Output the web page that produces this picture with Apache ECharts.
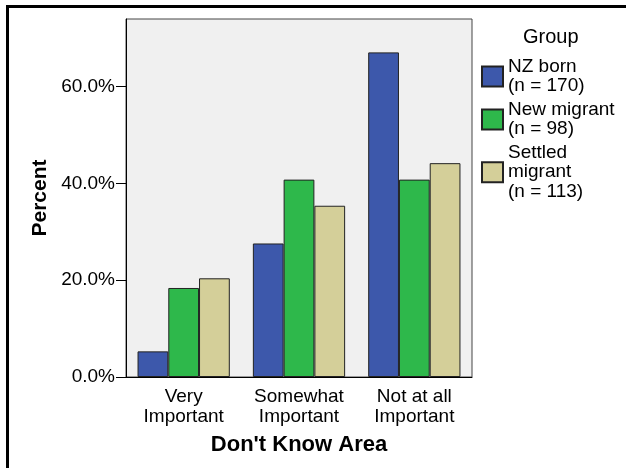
<!DOCTYPE html>
<html>
<head>
<meta charset="utf-8">
<script src="https://cdn.jsdelivr.net/npm/echarts@6/dist/echarts.min.js"></script>
<style>
  html, body { margin: 0; padding: 0; background: #fff; }
  #main { width: 626px; height: 468px; }
</style>
</head>
<body>
<div id="main"></div>
<script>
// 数据
var categories = ['Very\nImportant', 'Somewhat\nImportant', 'Not at all\nImportant'];
var groupNames = ['NZ born\n(n = 170)', 'New migrant\n(n = 98)', 'Settled\nmigrant\n(n = 113)'];
var nzBorn = [5.3, 27.6, 67.1];
var newMigrant = [18.4, 40.8, 40.8];
var settledMigrant = [20.4, 35.4, 44.2];
var yTicks = [0, 20, 40, 60];

var FONT = "'Liberation Sans', Arial, sans-serif";
var colors = ['#3d58ab', '#2eb84b', '#d4cf99'];

var chart = echarts.init(document.getElementById('main'), null, { renderer: 'canvas' });

function barSeries(name, data) {
  return {
    name: name,
    type: 'bar',
    data: data,
    barGap: '0%',
    barCategoryGap: '20%',
    itemStyle: { borderColor: '#222', borderWidth: 1 },
    emphasis: { disabled: true }
  };
}

var option = {
  animation: false,
  color: colors,
  textStyle: { fontFamily: FONT },
  title: {
    text: 'Group',
    left: 518,
    top: 22,
    textStyle: { fontFamily: FONT, fontSize: 20, fontWeight: 'normal', color: '#000' }
  },
  legend: {
    orient: 'vertical',
    left: 481,
    top: 57,
    padding: 0,
    itemWidth: 21,
    itemHeight: 20,
    itemGap: 4,
    icon: 'rect',
    selectedMode: false,
    data: groupNames,
    textStyle: { fontFamily: FONT, fontSize: 19, lineHeight: 19.5, color: '#000' }
  },
  grid: {
    left: 126,
    right: 154,
    top: 19,
    bottom: 91,
    show: true,
    backgroundColor: '#f0f0f0',
    borderColor: '#444',
    borderWidth: 1
  },
  xAxis: {
    type: 'category',
    data: categories,
    name: "Don't Know Area",
    nameLocation: 'middle',
    nameGap: 57,
    nameTextStyle: { fontFamily: FONT, fontSize: 22, fontWeight: 'bold', color: '#000' },
    axisLine: { lineStyle: { color: '#000', width: 1 } },
    axisTick: { alignWithLabel: true, length: 7, lineStyle: { color: '#000' } },
    axisLabel: { interval: 0, fontFamily: FONT, fontSize: 19, lineHeight: 20, color: '#000', margin: 10 }
  },
  yAxis: {
    type: 'value',
    min: 0,
    max: 74,
    interval: 20,
    name: 'Percent',
    nameLocation: 'middle',
    nameGap: 72,
    nameTextStyle: { fontFamily: FONT, fontSize: 21, fontWeight: 'bold', color: '#000' },
    axisLine: { show: true, lineStyle: { color: '#000', width: 1 } },
    axisTick: { show: true, length: 10, lineStyle: { color: '#000' }, customValues: yTicks },
    splitLine: { show: false },
    axisLabel: {
      fontFamily: FONT, fontSize: 19, color: '#000', margin: 11,
      customValues: yTicks,
      formatter: function (v) { return v.toFixed(1) + '%'; }
    }
  },
  graphic: [{
    type: 'rect',
    silent: true,
    shape: { x: 7.5, y: 6.5, width: 700, height: 600 },
    style: { fill: 'none', stroke: '#000', lineWidth: 3 }
  }],
  series: [
    barSeries(groupNames[0], nzBorn),
    barSeries(groupNames[1], newMigrant),
    barSeries(groupNames[2], settledMigrant)
  ]
};

chart.setOption(option);
</script>
</body>
</html>
